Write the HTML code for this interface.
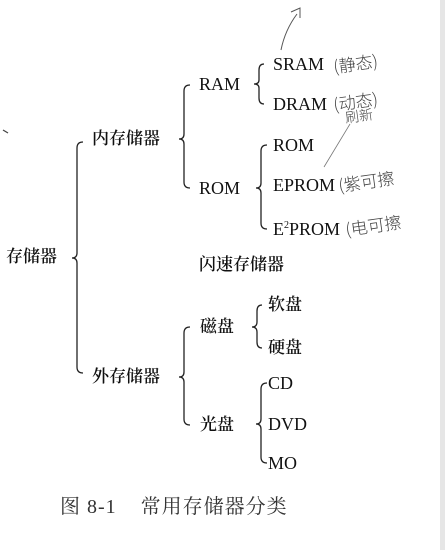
<!DOCTYPE html>
<html><head><meta charset="utf-8"><style>
html,body{margin:0;padding:0;background:#fff;}
body{width:445px;height:550px;position:relative;overflow:hidden;font-family:"Liberation Serif","Noto Serif CJK SC",serif;color:#111;}
.t{position:absolute;font-size:18px;line-height:20px;white-space:nowrap;}
.c{font-size:17px;font-weight:600;}
.h{position:absolute;font-family:"Noto Sans CJK SC",sans-serif;font-weight:300;font-size:17px;color:#444;white-space:nowrap;transform:rotate(-8deg);}
svg{position:absolute;left:0;top:0;}
</style></head><body>
<svg width="445" height="550" fill="none" stroke="#222" stroke-width="1.3">
<path d="M83,142 Q77,142 77,148 L77,253 Q77,258 72,258 Q77,258 77,263 L77,367 Q77,373 83,373"/>
<path d="M190,85 Q184,85 184,91 L184,134 Q184,139 179,139 Q184,139 184,144 L184,182 Q184,188 190,188"/>
<path d="M264,64 Q259,64 259,70 L259,80 Q259,84 254,84 Q259,84 259,88 L259,98 Q259,104 264,104"/>
<path d="M267,145 Q261,145 261,151 L261,183 Q261,188 256,188 Q261,188 261,193 L261,223 Q261,229 267,229"/>
<path d="M262,305 Q257,305 257,311 L257,322 Q257,327 252,327 Q257,327 257,332 L257,342 Q257,348 262,348"/>
<path d="M190,327 Q184,327 184,333 L184,372 Q184,377 179,377 Q184,377 184,382 L184,419 Q184,425 190,425"/>
<path d="M267,383 Q261,383 261,389 L261,419 Q261,424 256,424 Q261,424 261,429 L261,457 Q261,463 267,463"/>
<path d="M281,50 Q285,30 297,14 M291,12 L300,8 L300,18" stroke="#555" stroke-width="1"/>
<path d="M324,167 L350,124" stroke="#777" stroke-width="0.8"/>
<path d="M3,130 L8,133" stroke="#444"/>
</svg>
<div style="position:absolute;left:440px;top:0;width:5px;height:550px;background:#e6e6e6"></div>
<div class="t c" style="left:6px;top:247px">存储器</div>
<div class="t c" style="left:92px;top:129px">内存储器</div>
<div class="t c" style="left:92px;top:367px">外存储器</div>
<div class="t" style="left:199px;top:74px">RAM</div>
<div class="t" style="left:199px;top:178px">ROM</div>
<div class="t" style="left:273px;top:54px">SRAM</div>
<div class="t" style="left:273px;top:94px">DRAM</div>
<div class="t" style="left:273px;top:135px">ROM</div>
<div class="t" style="left:273px;top:175px">EPROM</div>
<div class="t" style="left:273px;top:219px">E<sup style="font-size:10px;vertical-align:7px;line-height:0">2</sup>PROM</div>
<div class="t c" style="left:199px;top:255px">闪速存储器</div>
<div class="t c" style="left:200px;top:317px">磁盘</div>
<div class="t c" style="left:268px;top:295px">软盘</div>
<div class="t c" style="left:268px;top:338px">硬盘</div>
<div class="t c" style="left:200px;top:415px">光盘</div>
<div class="t" style="left:268px;top:373px">CD</div>
<div class="t" style="left:268px;top:414px">DVD</div>
<div class="t" style="left:268px;top:453px">MO</div>
<div class="t" style="left:60px;top:497px;color:#333;font-size:20px;letter-spacing:1px">图 8-1&nbsp;&nbsp;&nbsp;&nbsp;常用存储器分类</div>
<div class="h" style="left:333px;top:50px">(静态)</div>
<div class="h" style="left:333px;top:88px">(动态)</div>
<div class="h" style="left:345px;top:106px;font-size:14px">刷新</div>
<div class="h" style="left:338px;top:168px">(紫可擦</div>
<div class="h" style="left:345px;top:212px">(电可擦</div>
</body></html>
